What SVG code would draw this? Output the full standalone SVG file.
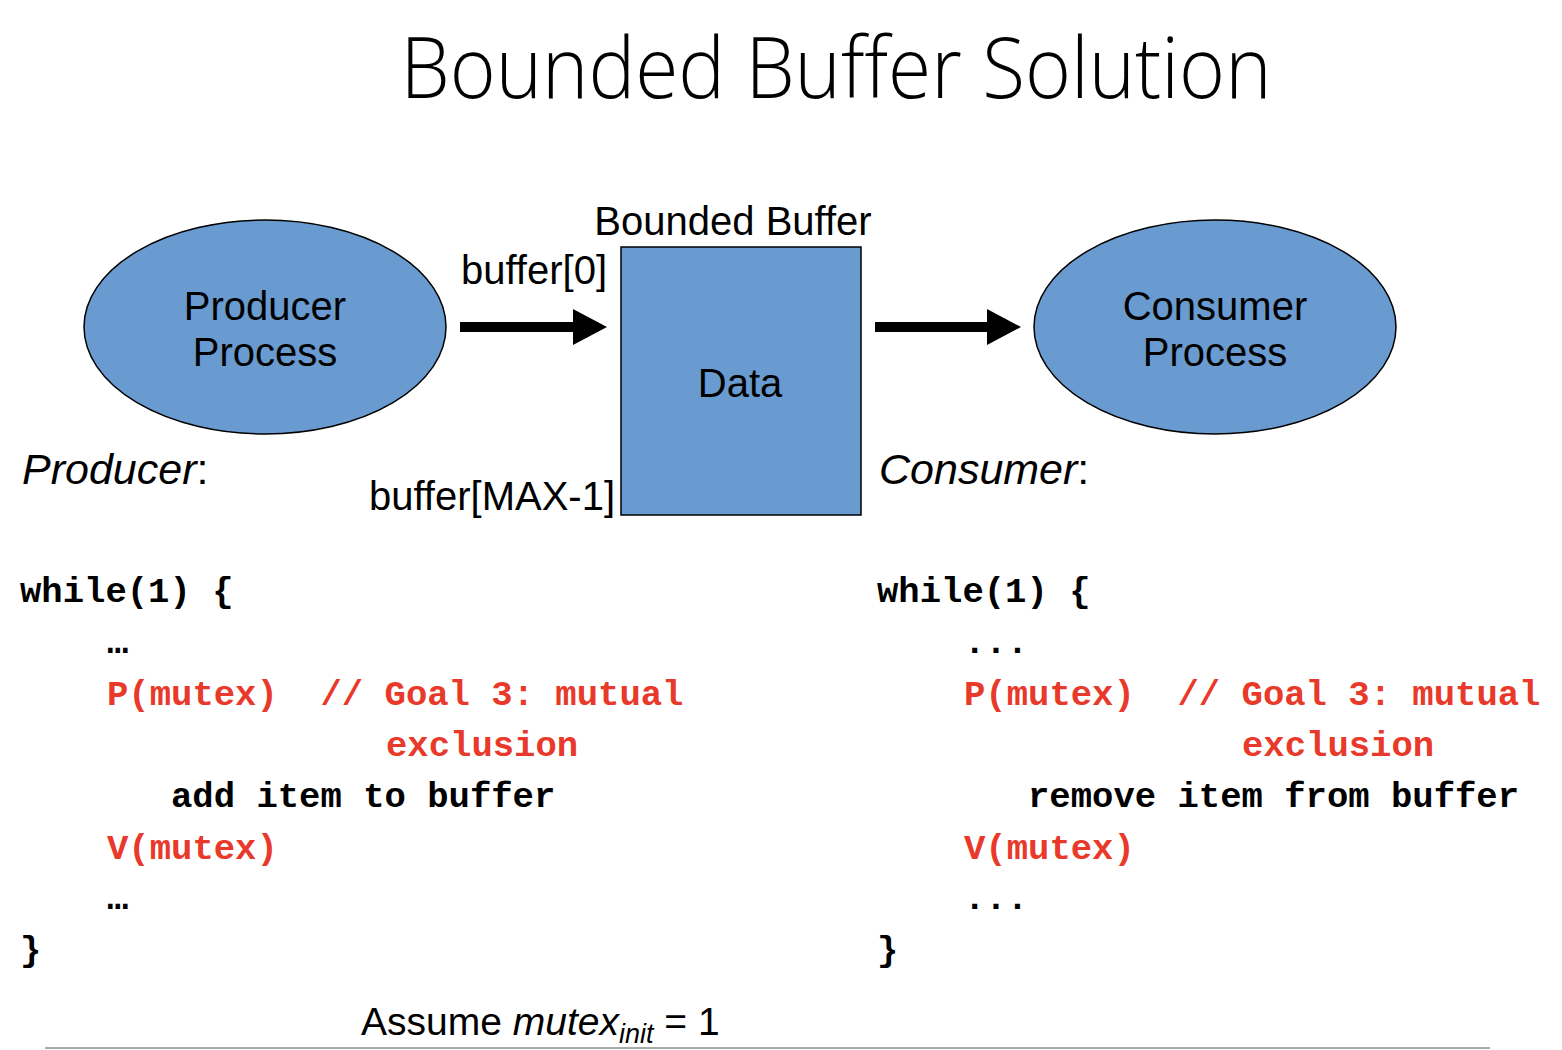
<svg xmlns="http://www.w3.org/2000/svg" width="1562" height="1050" viewBox="0 0 1562 1050">
<style>
.t{font-family:"Liberation Sans",Arial,sans-serif;font-size:40px;fill:#000}
.it{font-style:italic;font-size:43px}
.c{font-family:"Liberation Mono","Courier New",monospace;font-weight:bold;font-size:35.6px;fill:#000;white-space:pre}
.r{fill:#e8392a}
.shape{fill:#6a9bd0;stroke:#000;stroke-width:1.5}
</style>
<defs>
<marker id="ah" markerWidth="34" markerHeight="36" refX="0" refY="18" markerUnits="userSpaceOnUse" orient="auto">
<path d="M0,0 L34,18 L0,36 Z" fill="#000"/>
</marker>
</defs>
<rect width="1562" height="1050" fill="#fff"/>
<text x="836" y="98" text-anchor="middle" textLength="871" lengthAdjust="spacingAndGlyphs" style="font-family:'Open Sans','Noto Sans',sans-serif;font-weight:300;font-size:84px;fill:#000">Bounded Buffer Solution</text>

<g id="producer">
<ellipse class="shape" cx="265" cy="327" rx="181" ry="107"/>
<text class="t" x="265" y="320" text-anchor="middle">Producer</text>
<text class="t" x="265" y="366" text-anchor="middle">Process</text>
</g>
<g id="buffer">
<text class="t" x="733" y="235" text-anchor="middle">Bounded Buffer</text>
<rect class="shape" x="621" y="247" width="240" height="268"/>
<text class="t" x="740" y="397" text-anchor="middle">Data</text>
<text class="t" x="607" y="284" text-anchor="end">buffer[0]</text>
<text class="t" x="615" y="510" text-anchor="end">buffer[MAX-1]</text>
</g>
<g id="consumer">
<ellipse class="shape" cx="1215" cy="327" rx="181" ry="107"/>
<text class="t" x="1215" y="320" text-anchor="middle">Consumer</text>
<text class="t" x="1215" y="366" text-anchor="middle">Process</text>
</g>
<g id="connectors" stroke="#000" stroke-width="10" fill="none">
<line x1="460" y1="327" x2="573" y2="327" marker-end="url(#ah)"/>
<line x1="875" y1="327" x2="987" y2="327" marker-end="url(#ah)"/>
</g>

<g id="producer-code">
<text class="t it" x="22" y="484">Producer<tspan style="font-style:normal">:</tspan></text>
<text class="c" x="20" y="602">while(1) {</text>
<text class="c" x="107" y="653">…</text>
<text class="c r" x="107" y="705" xml:space="preserve">P(mutex)  // Goal 3: mutual</text>
<text class="c r" x="386" y="756">exclusion</text>
<text class="c" x="171" y="807">add item to buffer</text>
<text class="c r" x="107" y="859">V(mutex)</text>
<text class="c" x="107" y="909">…</text>
<text class="c" x="20" y="961">}</text>
</g>
<g id="consumer-code">
<text class="t it" x="879" y="484">Consumer<tspan style="font-style:normal">:</tspan></text>
<text class="c" x="877" y="602">while(1) {</text>
<text class="c" x="964" y="653">...</text>
<text class="c r" x="964" y="705" xml:space="preserve">P(mutex)  // Goal 3: mutual</text>
<text class="c r" x="1242" y="756">exclusion</text>
<text class="c" x="1028" y="807">remove item from buffer</text>
<text class="c r" x="964" y="859">V(mutex)</text>
<text class="c" x="964" y="909">...</text>
<text class="c" x="877" y="961">}</text>
</g>
<text class="t" x="361" y="1035" style="font-size:39px">Assume <tspan font-style="italic">mutex</tspan><tspan font-style="italic" font-size="27" dy="8">init</tspan><tspan dy="-8"> = 1</tspan></text>
<line x1="45" y1="1048" x2="1490" y2="1048" stroke="#aaa" stroke-width="2"/>
</svg>
